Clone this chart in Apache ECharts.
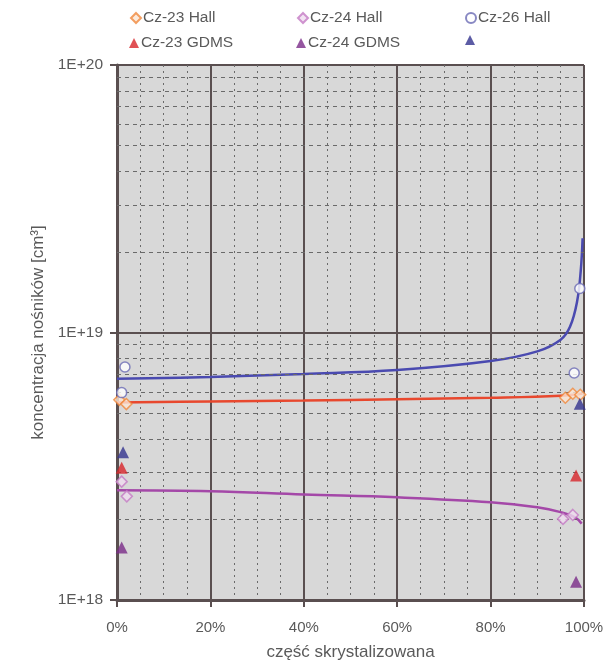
<!DOCTYPE html>
<html>
<head>
<meta charset="utf-8">
<script src="https://cdn.jsdelivr.net/npm/echarts@6/dist/echarts.min.js"></script>
<style>
html,body{margin:0;padding:0;background:#fff;}
#c{width:609px;height:666px;}
</style>
</head>
<body>
<div id="c"></div>
<script>
// ---- data ----
const xTicks = [0, 20, 40, 60, 80, 100];
const yDecades = [1e18, 1e19, 1e20];
const minorGridValues = [2e18,3e18,4e18,5e18,6e18,7e18,8e18,9e18,2e19,3e19,4e19,5e19,6e19,7e19,8e19,9e19];

const cz26LineX = [0, 20, 40, 60, 80, 90, 95, 97, 98.5, 99.3, 99.7];
const cz26LineY = [6.71e18, 6.82e18, 7.0e18, 7.24e18, 7.82e18, 8.5e18, 9.4e18, 1.05e19, 1.3e19, 1.7e19, 2.25e19];
const cz23LineX = [0, 20, 40, 60, 80, 95, 99.7];
const cz23LineY = [5.47e18, 5.52e18, 5.57e18, 5.63e18, 5.7e18, 5.8e18, 5.92e18];
const cz24LineX = [0, 20, 40, 60, 80, 90, 95, 98, 99.5];
const cz24LineY = [2.57e18, 2.55e18, 2.48e18, 2.42e18, 2.32e18, 2.22e18, 2.13e18, 2.04e18, 1.93e18];

const cz23Hall = [[0.5, 5.6e18], [2, 5.4e18], [96, 5.7e18], [97.6, 5.9e18], [99.2, 5.85e18]];
const cz24Hall = [[1, 2.77e18], [2.1, 2.44e18], [95.5, 2.01e18], [97.6, 2.08e18]];
const cz26Hall = [[1.7, 7.43e18], [1, 5.96e18], [97.9, 7.06e18], [99.1, 1.46e19]];
const cz23GDMS = [[1, 3.12e18], [98.3, 2.92e18]];
const cz24GDMS = [[1, 1.57e18], [98.3, 1.17e18]];
const cz26GDMS = [[1.3, 3.57e18], [99.1, 5.42e18]];

const names = ['Cz-23 Hall', 'Cz-24 Hall', 'Cz-26 Hall', 'Cz-23 GDMS', 'Cz-24 GDMS', 'Cz-26 GDMS'];

// ---- chart ----
const zip = (xs, ys) => xs.map((x, i) => [x, ys[i]]);
const font = 'Liberation Sans, Arial, sans-serif';
const txt = '#5a5a5a';
const dark = '#5a4f50';

function legend(name, left, top, hideText) {
  return {
    data: [name], left: left, top: top, padding: 0, itemWidth: 10, itemHeight: 10,
    selectedMode: false,
    textStyle: {fontSize: 15.5, color: txt, fontFamily: font, padding: [0, 0, 0, -3]},
    formatter: hideText ? () => '' : undefined
  };
}

const chart = echarts.init(document.getElementById('c'), null, {renderer: 'canvas'});
chart.setOption({
  backgroundColor: '#fff',
  animation: false,
  legend: [
    legend(names[0], 130, 10), legend(names[1], 297, 10), legend(names[2], 465, 10),
    legend(names[3], 129, 35), legend(names[4], 296, 35), legend(names[5], 465, 35, true)
  ],
  grid: {left: 117, right: 25, top: 65, bottom: 64, show: true, backgroundColor: '#d8d8d8', borderColor: dark, borderWidth: 0},
  xAxis: {
    type: 'value', min: 0, max: 100, interval: 20,
    name: 'część skrystalizowana', nameLocation: 'middle', nameGap: 44,
    nameTextStyle: {fontSize: 17, color: txt, fontFamily: font},
    axisLine: {show: true, onZero: false, lineStyle: {color: dark, width: 3}},
    axisTick: {show: true, length: 7, lineStyle: {color: dark, width: 2}},
    axisLabel: {formatter: '{value}%', fontSize: 15, color: txt, fontFamily: font, margin: 20},
    splitLine: {show: true, lineStyle: {color: dark, width: 2}},
    minorTick: {show: false, splitNumber: 4},
    minorSplitLine: {show: true, lineStyle: {color: '#6a6a6a', width: 1, type: [2, 4]}}
  },
  yAxis: {
    type: 'log', logBase: 10, min: yDecades[0], max: yDecades[2],
    name: 'koncentracja nośników [cm³]', nameLocation: 'middle', nameGap: 68, nameRotate: 90,
    nameTextStyle: {fontSize: 17, color: txt, fontFamily: font},
    axisLine: {show: true, lineStyle: {color: dark, width: 3}},
    axisTick: {show: true, length: 7, lineStyle: {color: dark, width: 2}},
    axisLabel: {fontSize: 15.5, color: txt, fontFamily: font, margin: 14,
      formatter: v => '1E+' + Math.round(Math.log10(v))},
    splitLine: {show: true, lineStyle: {color: dark, width: 2}}
  },
  series: [
    {type: 'line', name: '_grid', data: [], silent: true,
      markLine: {silent: true, symbol: 'none', label: {show: false},
        lineStyle: {color: '#6a6a6a', width: 1, type: [4, 4]},
        data: minorGridValues.map(v => ({yAxis: v}))}},
    {type: 'line', name: 'l26', data: zip(cz26LineX, cz26LineY), smooth: 0.4, showSymbol: false,
      lineStyle: {color: '#4a4ab0', width: 2.5}, z: 3},
    {type: 'line', name: 'l23', data: zip(cz23LineX, cz23LineY), smooth: 0.4, showSymbol: false,
      lineStyle: {color: '#e8482e', width: 2.5}, z: 3},
    {type: 'line', name: 'l24', data: zip(cz24LineX, cz24LineY), smooth: 0.4, showSymbol: false,
      lineStyle: {color: '#a448a8', width: 2.5}, z: 3},
    {type: 'scatter', name: names[0], data: cz23Hall, symbol: 'diamond', symbolSize: 11, z: 5,
      itemStyle: {color: '#fbe6d4', borderColor: '#f0883c', borderWidth: 1.5}},
    {type: 'scatter', name: names[1], data: cz24Hall, symbol: 'diamond', symbolSize: 11, z: 5,
      itemStyle: {color: '#efdcef', borderColor: '#c47ac4', borderWidth: 1.5}},
    {type: 'scatter', name: names[2], data: cz26Hall, symbol: 'circle', symbolSize: 10, z: 5,
      itemStyle: {color: '#ffffff', borderColor: '#6a6ab4', borderWidth: 1.5}},
    {type: 'scatter', name: names[3], data: cz23GDMS, symbol: 'triangle', symbolSize: 12, z: 5,
      itemStyle: {color: '#d8262a'}},
    {type: 'scatter', name: names[4], data: cz24GDMS, symbol: 'triangle', symbolSize: 12, z: 5,
      itemStyle: {color: '#7a2c88'}},
    {type: 'scatter', name: names[5], data: cz26GDMS, symbol: 'triangle', symbolSize: 12, z: 5,
      itemStyle: {color: '#33338f'}}
  ]
});
</script>
</body>
</html>
